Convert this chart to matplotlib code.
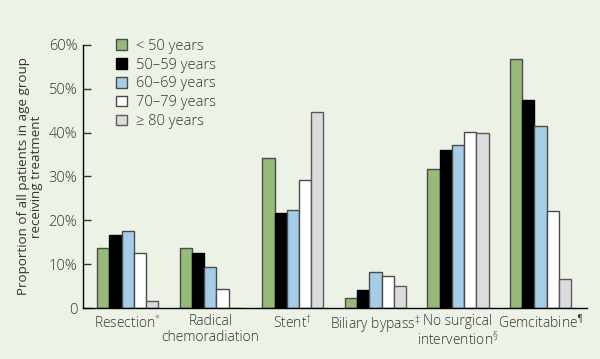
import numpy as np
import matplotlib
matplotlib.use("Agg")
import matplotlib.pyplot as plt
from matplotlib.patches import Patch

categories = ["Resection$^{*}$", "Radical\nchemoradiation", "Stent$^{\u2020}$",
              "Biliary bypass$^{\u2021}$", "No surgical\nintervention$^{\u00a7}$",
              "Gemcitabine$^{\u00b6}$"]
age_groups = ["< 50 years", "50\u201359 years", "60\u201369 years",
              "70\u201379 years", "\u2265 80 years"]

lt50 = [13.6, 13.6, 34.2, 2.3, 31.8, 56.8]
a50_59 = [16.6, 12.5, 21.7, 4.1, 36.1, 47.4]
a60_69 = [17.6, 9.4, 22.4, 8.2, 37.2, 41.4]
a70_79 = [12.5, 4.3, 29.2, 7.4, 40.1, 22.1]
ge80 = [1.6, 0.0, 44.8, 5.1, 39.8, 6.6]

series = [lt50, a50_59, a60_69, a70_79, ge80]
colors = ["#96bb78", "#000000", "#a6cde8", "#ffffff", "#dcdcde"]
edges = ["#4a4a4a", "#000000", "#4a4a4a", "#4a4a4a", "#5a5a5a"]

bg = "#edf2e6"
txt = "#333333"
plt.rcParams['font.family'] = ['Open Sans', 'DejaVu Sans']
plt.rcParams['font.weight'] = 'light'
plt.rcParams['mathtext.fontset'] = 'custom'
plt.rcParams['mathtext.rm'] = 'DejaVu Sans'
plt.rcParams['mathtext.it'] = 'DejaVu Sans'

fig = plt.figure(figsize=(6, 3.59), dpi=100, facecolor=bg)
ax = fig.add_axes([0.138, 0.142, 0.840, 0.733], facecolor=bg)

x = np.arange(len(categories))
w = 0.148
for i, vals in enumerate(series):
    ax.bar(x + (i - 2) * w, vals, width=w, color=colors[i], edgecolor=edges[i],
           linewidth=1.0, label=age_groups[i], zorder=2)

ax.set_xlim(-0.545, 5.56)
ax.set_ylim(0, 60)
ax.set_yticks([0, 10, 20, 30, 40, 50, 60])
ax.set_yticklabels(["0", "10%", "20%", "30%", "40%", "50%", "60%"])
ax.set_xticks(x)
ax.set_xticklabels(categories, linespacing=1.1)
ax.tick_params(axis='x', length=0, pad=4, labelsize=10, colors=txt)
ax.tick_params(axis='y', direction='in', length=6, width=1, pad=4,
               labelsize=10.5, colors=txt)
ax.spines['top'].set_visible(False)
ax.spines['right'].set_visible(False)
for s in ['left', 'bottom']:
    ax.spines[s].set_color('#000000')
    ax.spines[s].set_linewidth(1.0)

ax.set_ylabel("Proportion of all patients in age group\nreceiving treatment",
              fontsize=9.6, color=txt, labelpad=4, linespacing=1.05)

handles = [Patch(facecolor=colors[i], edgecolor=edges[i], linewidth=1.0)
           for i in range(5)]
leg = ax.legend(handles, age_groups, loc='upper left', bbox_to_anchor=(0.055, 1.045),
                frameon=False, fontsize=10.5, handlelength=0.75, handleheight=0.75,
                handletextpad=0.6, labelspacing=0.26, borderaxespad=0)
for t in leg.get_texts():
    t.set_color(txt)

fig.savefig("out.png", dpi=100, facecolor=bg)
